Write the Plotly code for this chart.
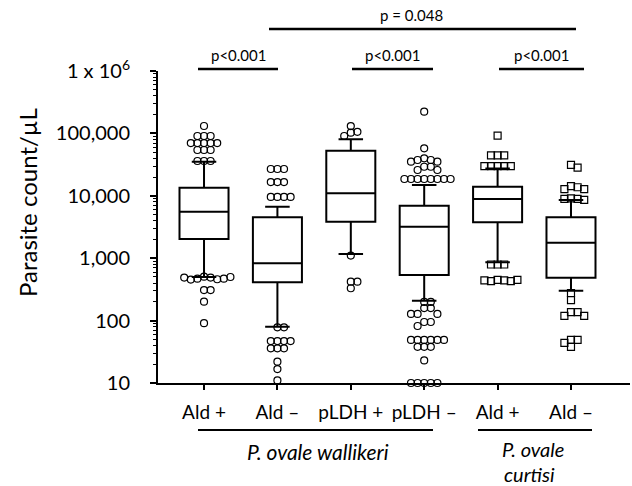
import math
import plotly.graph_objects as go

# ---- data -------------------------------------------------------------
categories = ["Ald +", "Ald –", "pLDH +", "pLDH –", "Ald +", "Ald –"]

# box summaries (parasites/µL)
whisker_low = [500, 80, 1170, 208, 860, 300]
q1 = [2040, 411, 3850, 538, 3760, 487]
median = [5560, 828, 11000, 3200, 8890, 1770]
q3 = [13500, 4520, 52800, 6930, 14000, 4520]
whisker_high = [35200, 6680, 80400, 14900, 27500, 8570]

# individual values beyond the whiskers, per group
outliers_ald_pos_w = [131500, 90800, 90800, 90800, 70100, 70100, 70100, 70100, 70100,
                      54200, 54200, 54200, 36100, 36100, 36100,
                      505, 490, 470, 460, 455, 470, 490, 500, 309, 309, 201, 91]
outliers_ald_neg_w = [26900, 26900, 26900, 16600, 16600, 16600, 9580, 9580, 9580, 9580,
                      78, 78, 47, 47, 47, 47, 36, 36, 36, 22, 16.7, 11]
outliers_pldh_pos_w = [131000, 106000, 102600, 90800, 1100, 420, 420, 330]
outliers_pldh_neg_w = [223000, 57700, 39900, 37500, 37500, 35200, 35200,
                       29200, 29200, 25900, 25900,
                       18600, 18600, 18600, 18600, 18600, 18600, 18600, 18600,
                       199, 199, 159, 159, 128, 128, 128, 95, 95, 82,
                       49, 49, 49, 49, 49, 49, 38, 38, 38, 23, 10, 10, 10, 10, 10]
outliers_ald_pos_c = [91800, 44600, 44600, 44600, 30000, 30000, 30000, 30000, 30000,
                      793, 793, 793, 450, 440, 430, 430, 440, 450]
outliers_ald_neg_c = [31200, 28200, 14300, 13700, 12800, 12800, 9100, 8900, 8900, 8600,
                      277, 213, 137, 137, 119, 119, 49, 49, 44, 38]

outlier_groups = [outliers_ald_pos_w, outliers_ald_neg_w, outliers_pldh_pos_w,
                  outliers_pldh_neg_w, outliers_ald_pos_c, outliers_ald_neg_c]

y_tick_vals = [10, 100, 1000, 10000, 100000, 1000000]
y_tick_text = ["10", "100", "1,000", "10,000", "100,000", "1 x 10<sup>6</sup>"]

# ---- geometry ---------------------------------------------------------
W, H = 632, 486
M_L, M_R, M_T, M_B = 158, 2, 71, 103
X_RANGE = [-0.627, 5.804]
Y_RANGE = [1, 6]
plot_w = W - M_L - M_R
plot_h = H - M_T - M_B
px_per_cat = plot_w / (X_RANGE[1] - X_RANGE[0])
px_per_dec = plot_h / (Y_RANGE[1] - Y_RANGE[0])

FONT = "Lato"


def swarm_offsets(values, center, spacing=6.6):
    """Spread points sideways so markers do not sit on top of each other."""
    placed, xs = [], []
    order = [0, 1, -1, 2, -2, 3, -3, 4, -4, 5, -5, 6, -6]
    for v in values:
        ypx = math.log10(v) * px_per_dec
        chosen = 0
        for k in order:
            xpx = k * spacing
            if all((xpx - a) ** 2 + (ypx - b) ** 2 >= (spacing * 0.92) ** 2 for a, b in placed):
                chosen = xpx
                break
        placed.append((chosen, ypx))
        xs.append(center + chosen / px_per_cat)
    return xs


fig = go.Figure()

fig.add_trace(go.Box(
    x=list(range(len(categories))),
    q1=q1, median=median, q3=q3,
    lowerfence=whisker_low, upperfence=whisker_high,
    width=0.668, whiskerwidth=0.5,
    line=dict(color="black", width=2),
    fillcolor="rgba(255,255,255,0)",
    boxpoints=False, showlegend=False, hoverinfo="skip",
))

symbols = ["circle-open"] * 4 + ["square-open"] * 2
for i, vals in enumerate(outlier_groups):
    fig.add_trace(go.Scatter(
        x=swarm_offsets(vals, i), y=vals, mode="markers",
        marker=dict(symbol=symbols[i], size=7, color="black",
                    line=dict(color="black", width=1.2)),
        cliponaxis=False, showlegend=False, hoverinfo="skip",
    ))

minor_vals = [m * 10 ** d for d in range(1, 6) for m in range(2, 10)]

fig.update_layout(
    width=W, height=H,
    margin=dict(l=M_L, r=M_R, t=M_T, b=M_B),
    paper_bgcolor="white", plot_bgcolor="white",
    font=dict(family=FONT, color="black"),
    xaxis=dict(
        range=X_RANGE, tickmode="array", tickvals=list(range(len(categories))),
        ticktext=categories, ticks="outside", ticklen=5, tickwidth=1.5,
        tickcolor="black", showline=True, linecolor="black", linewidth=2,
        showgrid=False, zeroline=False, tickfont=dict(size=19, family=FONT),
        ticklabelstandoff=6,
    ),
    yaxis=dict(
        type="log", range=Y_RANGE, tickmode="array", tickvals=y_tick_vals,
        ticktext=y_tick_text, ticks="outside", ticklen=6, tickwidth=1.5,
        tickcolor="black", showline=True, linecolor="black", linewidth=2,
        showgrid=False, zeroline=False, tickfont=dict(size=20, family=FONT),
        minor=dict(tickmode="array", tickvals=minor_vals, ticks="outside",
                   ticklen=3, tickwidth=1, tickcolor="black", showgrid=False),
        ticklabelstandoff=16,
    ),
)


def px_to_x(px):
    return X_RANGE[0] + (px - M_L) / px_per_cat


def py_to_paper(py):
    return (H - M_B - py) / plot_h


# y-axis title
fig.add_annotation(
    text="Parasite count/µL", xref="paper", yref="paper",
    x=(27 - M_L) / plot_w, y=py_to_paper(203), xanchor="center", yanchor="middle",
    textangle=-90, showarrow=False, font=dict(size=24, family=FONT),
)

# significance brackets above the boxes
brackets = [
    (198, 278, 69, "p<0.001", 238, 55),
    (352, 433, 69, "p<0.001", 392, 55),
    (499, 584, 69, "p<0.001", 541, 55),
    (269, 576, 29, "p = 0.048", 411, 15),
]
for x0, x1, ly, label, tx, ty in brackets:
    fig.add_shape(type="line", xref="x", yref="paper",
                  x0=px_to_x(x0), x1=px_to_x(x1),
                  y0=py_to_paper(ly), y1=py_to_paper(ly),
                  line=dict(color="black", width=2.5))
    fig.add_annotation(text=label, xref="x", yref="paper",
                       x=px_to_x(tx), y=py_to_paper(ty),
                       xanchor="center", yanchor="middle", showarrow=False,
                       font=dict(size=15, family=FONT))

# species grouping under the category labels
group_lines = [(198, 433), (478, 592)]
for x0, x1 in group_lines:
    fig.add_shape(type="line", xref="x", yref="paper",
                  x0=px_to_x(x0), x1=px_to_x(x1),
                  y0=py_to_paper(430), y1=py_to_paper(430),
                  line=dict(color="black", width=2))

group_labels = [
    ("<i>P. ovale wallikeri</i>", 318, 451, 21),
    ("<i>P. ovale</i>", 533, 449, 20),
    ("<i>curtisi</i>", 529, 474, 20),
]
for label, tx, ty, size in group_labels:
    fig.add_annotation(text=label, xref="x", yref="paper",
                       x=px_to_x(tx), y=py_to_paper(ty),
                       xanchor="center", yanchor="middle", showarrow=False,
                       font=dict(size=size, family=FONT))

fig.write_html("out.html")
